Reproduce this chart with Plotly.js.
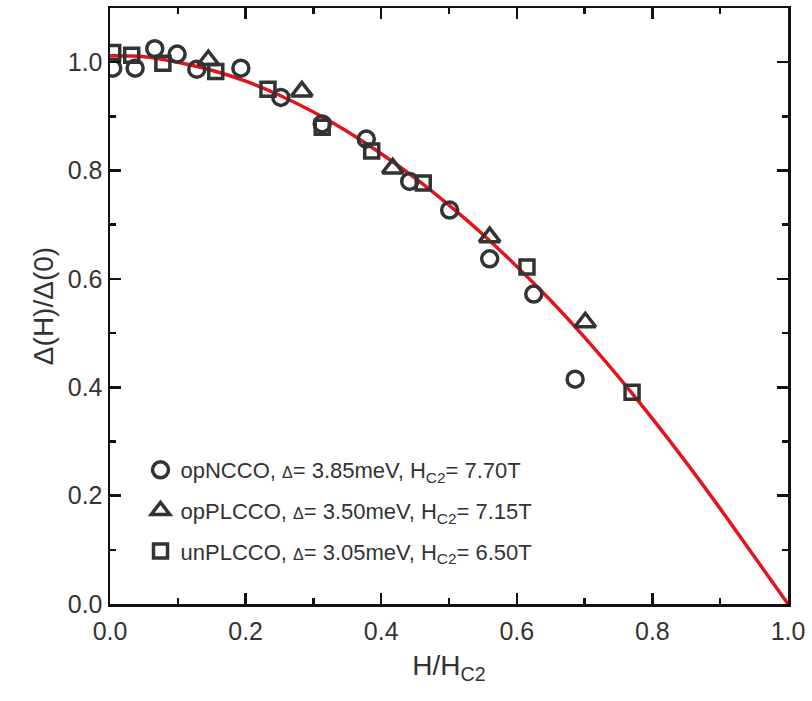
<!DOCTYPE html>
<html>
<head>
<meta charset="utf-8">
<script src="https://cdn.plot.ly/plotly-3.0.1.min.js"></script>
<style>html,body{margin:0;padding:0;background:#fff;}#chart{width:812px;height:701px;}</style>
</head>
<body>
<div id="chart"></div>
<script>
// opNCCO (circles)
const ncco_x = [0.004, 0.037, 0.066, 0.099, 0.128, 0.193, 0.252, 0.313, 0.378, 0.442, 0.501, 0.560, 0.625, 0.686];
const ncco_y = [0.989, 0.989, 1.025, 1.015, 0.987, 0.989, 0.935, 0.886, 0.858, 0.780, 0.727, 0.637, 0.572, 0.415];
// opPLCCO (triangles)
const plcco_x = [0.145, 0.283, 0.417, 0.560, 0.701];
const plcco_y = [1.004, 0.946, 0.804, 0.677, 0.520];
// unPLCCO (squares)
const unpl_x = [0.004, 0.032, 0.078, 0.156, 0.233, 0.313, 0.386, 0.462, 0.615, 0.770];
const unpl_y = [1.018, 1.013, 0.998, 0.983, 0.950, 0.880, 0.836, 0.777, 0.622, 0.391];
// red fit curve
const fit_x = [0, 0.05, 0.1, 0.15, 0.2, 0.25, 0.3, 0.35, 0.4, 0.45, 0.5, 0.55, 0.6, 0.65, 0.7, 0.75, 0.8, 0.85, 0.9, 0.95, 1.0];
const fit_y = [1.012, 1.010, 1.000, 0.985, 0.965, 0.939, 0.908, 0.872, 0.831, 0.786, 0.736, 0.682, 0.623, 0.560, 0.492, 0.419, 0.342, 0.261, 0.176, 0.088, 0.0];

const names = [
  'opNCCO, <span style="font-size:16px">Δ</span>= 3.85meV, H<sub>C2</sub>= 7.70T',
  'opPLCCO, <span style="font-size:16px">Δ</span>= 3.50meV, H<sub>C2</sub>= 7.15T',
  'unPLCCO, <span style="font-size:16px">Δ</span>= 3.05meV, H<sub>C2</sub>= 6.50T'
];

const mk = (sym, size) => ({symbol: sym, size: size, color: '#333', line: {width: 3.5, color: '#333'}});

const traces = [
  {x: fit_x, y: fit_y, mode: 'lines', line: {color: '#e5131b', width: 3.5, shape: 'spline', smoothing: 1}, showlegend: false, hoverinfo: 'skip'},
  {x: ncco_x, y: ncco_y, mode: 'markers', name: names[0], legendgroup: 'a', marker: mk('circle-open', 16)},
  {x: plcco_x, y: plcco_y, mode: 'markers', name: names[1], legendgroup: 'b', marker: mk('triangle-up-open', 18)},
  {x: unpl_x, y: unpl_y, mode: 'markers', name: names[2], legendgroup: 'c', marker: mk('square-open', 14)}
];

const FONT = 'Liberation Sans, Arial, sans-serif';
const axisCommon = {
  showline: true, linecolor: '#111', linewidth: 2.5, mirror: 'ticks',
  ticks: 'inside', ticklen: 11, tickwidth: 2.5, tickcolor: '#111',
  showgrid: false, zeroline: false, tickformat: '.1f',
  tick0: 0, dtick: 0.2,
  tickfont: {family: FONT, size: 25, color: '#333'},
  minor: {ticks: 'inside', ticklen: 6, tickwidth: 2.5, tickcolor: '#111', dtick: 0.1, showgrid: false}
};

const layout = {
  width: 812, height: 701,
  margin: {l: 110, r: 24, t: 8, b: 97},
  paper_bgcolor: '#fff', plot_bgcolor: '#fff',
  font: {family: FONT, color: '#333'},
  xaxis: Object.assign({}, axisCommon, {
    range: [0, 1.0], ticklabelstandoff: 3,
    title: {text: 'H/H<sub>C2</sub>', font: {size: 28, color: '#333'}, standoff: 12}
  }),
  yaxis: Object.assign({}, axisCommon, {
    range: [0, 1.1],
    title: {text: 'Δ(H)/Δ(0)', font: {size: 28, color: '#333'}, standoff: 6}
  }),
  legend: {
    x: 0.045, y: 0.26, xanchor: 'left', yanchor: 'top',
    bgcolor: 'rgba(0,0,0,0)', borderwidth: 0,
    font: {size: 22, color: '#333', family: FONT},
    tracegroupgap: 9, itemwidth: 30
  },
  showlegend: true
};

Plotly.newPlot('chart', traces, layout, {displayModeBar: false, staticPlot: true});
</script>
</body>
</html>
